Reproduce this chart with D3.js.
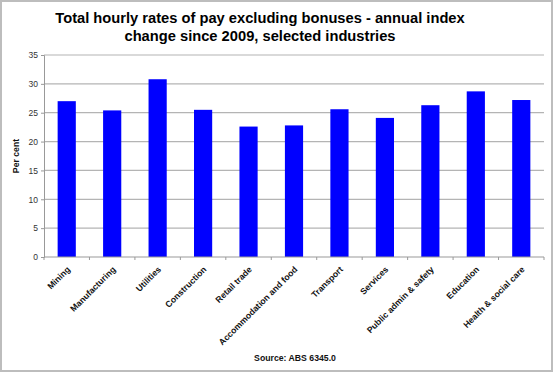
<!DOCTYPE html>
<html lang="en">
<head>
    <meta charset="UTF-8">
    <title>Total hourly rates of pay excluding bonuses</title>
    <script src="https://d3js.org/d3.v7.min.js"></script>
    <style>
        body { margin: 0; background: #fff; font-family: Arial, "Liberation Sans", sans-serif; }
        .title { font-size: 14.7px; font-weight: bold; fill: #000; }
        .ytick text { font-size: 8.5px; fill: #333; }
        .xlab { font-size: 8.7px; font-weight: bold; fill: #111; }
        .grid line { stroke: #b4b4b4; stroke-width: 1.2; }
    </style>
</head>
<body>
<svg id="chart" width="555" height="375"></svg>
<script>
    // Data
    const industries = ["Mining", "Manufacturing", "Utilities", "Construction", "Retail trade",
        "Accommodation and food", "Transport", "Services", "Public admin & safety",
        "Education", "Health & social care"];
    const indexChange = [27.0, 25.4, 30.8, 25.5, 22.6, 22.8, 25.6, 24.1, 26.3, 28.7, 27.2];
    const yTicks = [0, 5, 10, 15, 20, 25, 30, 35];

    const margin = { top: 55, left: 44, right: 11, bottom: 118 };
    const W = 555, H = 375;
    const svg = d3.select("#chart");

    // chart border
    svg.append("rect")
        .attr("x", 1).attr("y", 1).attr("width", 551).attr("height", 370)
        .attr("fill", "none").attr("stroke", "#bdbdbd").attr("stroke-width", 2);

    const x = d3.scaleBand().domain(industries)
        .range([margin.left, W - margin.right]).paddingInner(0.6).paddingOuter(0.3);
    const xTickScale = d3.scaleLinear().domain([0, industries.length])
        .range([margin.left, W - margin.right]);
    const y = d3.scaleLinear().domain([0, 35]).range([H - margin.bottom, margin.top]);

    // title
    const title = svg.append("text").attr("class", "title").attr("text-anchor", "middle");
    title.append("tspan").attr("x", 260).attr("y", 23)
        .text("Total hourly rates of pay excluding bonuses - annual index");
    title.append("tspan").attr("x", 260).attr("y", 41)
        .text("change since 2009, selected industries");

    // gridlines
    svg.append("g").attr("class", "grid")
        .selectAll("line").data(yTicks.filter(d => d > 0)).enter().append("line")
        .attr("x1", margin.left).attr("x2", W - margin.right)
        .attr("y1", d => y(d)).attr("y2", d => y(d));

    // y axis
    const yAxis = svg.append("g").attr("class", "ytick")
        .attr("transform", `translate(${margin.left},0)`)
        .call(d3.axisLeft(y).tickValues(yTicks).tickSize(3).tickPadding(3));
    yAxis.selectAll("line, path").attr("stroke", "#999");

    svg.append("text").attr("class", "xlab")
        .attr("transform", `translate(19,${y(17.5)}) rotate(-90)`)
        .attr("text-anchor", "middle")
        .text("Per cent");

    // bars
    svg.selectAll(".bar").data(industries).enter().append("rect")
        .attr("class", "bar")
        .attr("x", d => x(d))
        .attr("width", x.bandwidth())
        .attr("y", (d, i) => y(indexChange[i]))
        .attr("height", (d, i) => y(0) - y(indexChange[i]))
        .attr("fill", "#0000ff");

    // x axis
    const xAxis = svg.append("g").attr("transform", `translate(0,${y(0)})`);
    xAxis.append("line")
        .attr("x1", margin.left).attr("x2", W - margin.right)
        .attr("stroke", "#999").attr("stroke-width", 1.2);
    xAxis.selectAll(".xt").data(d3.range(industries.length + 1)).enter().append("line")
        .attr("x1", d => xTickScale(d)).attr("x2", d => xTickScale(d))
        .attr("y1", 0).attr("y2", 3).attr("stroke", "#999");

    xAxis.selectAll(".lab").data(industries).enter().append("text")
        .attr("class", "xlab")
        .attr("text-anchor", "end")
        .attr("transform", d => `translate(${x(d) + x.bandwidth() / 2 + 4},13) rotate(-45)`)
        .text(d => d);

    svg.append("text").attr("class", "xlab")
        .attr("x", 295).attr("y", 361).attr("text-anchor", "middle")
        .text("Source: ABS 6345.0");
</script>
</body>
</html>
